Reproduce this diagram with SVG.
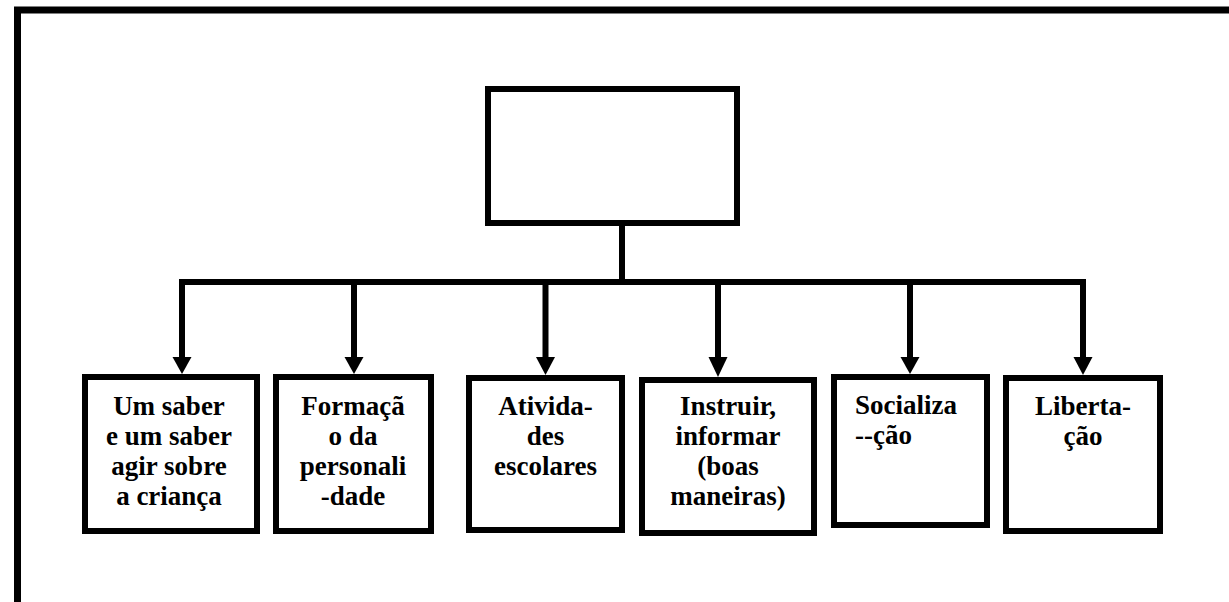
<svg xmlns="http://www.w3.org/2000/svg" width="1229" height="602" viewBox="0 0 1229 602">
  <style>
    .box { fill: #ffffff; stroke: #000000; stroke-width: 6; }
    .wire { fill: none; stroke: #000000; stroke-width: 6; }
    .frame { fill: none; stroke: #000000; stroke-width: 7; }
    .label { font-family: "Liberation Serif", "Times New Roman", serif; font-weight: bold; font-size: 27px; fill: #000000; }
    .mid { text-anchor: middle; }
  </style>
  <defs>
    <marker id="arrow" viewBox="0 0 19 17" refX="9.5" refY="17" markerWidth="19" markerHeight="17" markerUnits="userSpaceOnUse" orient="auto-start-reverse">
      <path d="M0,0 L19,0 L9.5,17 Z" fill="#000000"/>
    </marker>
  </defs>
  <rect width="1229" height="602" fill="#ffffff"/>

  <!-- page frame -->
  <g id="frame">
    <path class="frame" d="M17.5,602 L17.5,10 L1229,10"/>
  </g>

  <!-- connectors -->
  <g id="connectors">
    <line class="wire" x1="622" y1="226" x2="622" y2="282"/>
    <line class="wire" x1="179" y1="282" x2="1086" y2="282"/>
    <line class="wire" x1="182" y1="279" x2="182" y2="358"/>
    <line class="wire" x1="354" y1="282" x2="354" y2="358"/>
    <line class="wire" x1="545.5" y1="282" x2="545.5" y2="358"/>
    <line class="wire" x1="718" y1="282" x2="718" y2="358"/>
    <line class="wire" x1="910" y1="282" x2="910" y2="358"/>
    <line class="wire" x1="1083" y1="279" x2="1083" y2="358"/>
    <path d="M172.5,357 L191.5,357 L182,374 Z"/>
    <path d="M344.5,357 L363.5,357 L354,374 Z"/>
    <path d="M536,357 L555,357 L545.5,375 Z"/>
    <path d="M708.5,357 L727.5,357 L718,377 Z"/>
    <path d="M900.5,357 L919.5,357 L910,374 Z"/>
    <path d="M1073.5,357 L1092.5,357 L1083,375 Z"/>
  </g>

  <!-- top node (empty) -->
  <g id="root">
    <rect class="box" x="488" y="89" width="249" height="134"/>
  </g>

  <g id="node-saber">
    <rect class="box" x="85" y="377" width="172" height="154"/>
    <text class="label mid" x="169" y="415">Um saber</text>
    <text class="label mid" x="169" y="445">e um saber</text>
    <text class="label mid" x="169" y="475">agir sobre</text>
    <text class="label mid" x="169" y="505">a criança</text>
  </g>

  <g id="node-formacao">
    <rect class="box" x="276" y="377" width="155" height="154"/>
    <text class="label mid" x="353" y="415">Formaçã</text>
    <text class="label mid" x="353" y="445">o da</text>
    <text class="label mid" x="353" y="475">personali</text>
    <text class="label mid" x="353" y="505">-dade</text>
  </g>

  <g id="node-atividades">
    <rect class="box" x="469" y="378" width="153" height="152"/>
    <text class="label mid" x="545.5" y="415">Ativida-</text>
    <text class="label mid" x="545.5" y="445">des</text>
    <text class="label mid" x="545.5" y="475">escolares</text>
  </g>

  <g id="node-instruir">
    <rect class="box" x="642" y="380" width="172" height="153"/>
    <text class="label mid" x="728" y="415">Instruir,</text>
    <text class="label mid" x="728" y="445">informar</text>
    <text class="label mid" x="728" y="475">(boas</text>
    <text class="label mid" x="728" y="505">maneiras)</text>
  </g>

  <g id="node-socializacao">
    <rect class="box" x="834" y="377" width="153" height="148"/>
    <text class="label" x="855" y="414">Socializa</text>
    <text class="label" x="855" y="444">--ção</text>
  </g>

  <g id="node-libertacao">
    <rect class="box" x="1006" y="378" width="154" height="153"/>
    <text class="label mid" x="1083" y="415">Liberta-</text>
    <text class="label mid" x="1083" y="445">ção</text>
  </g>
</svg>
